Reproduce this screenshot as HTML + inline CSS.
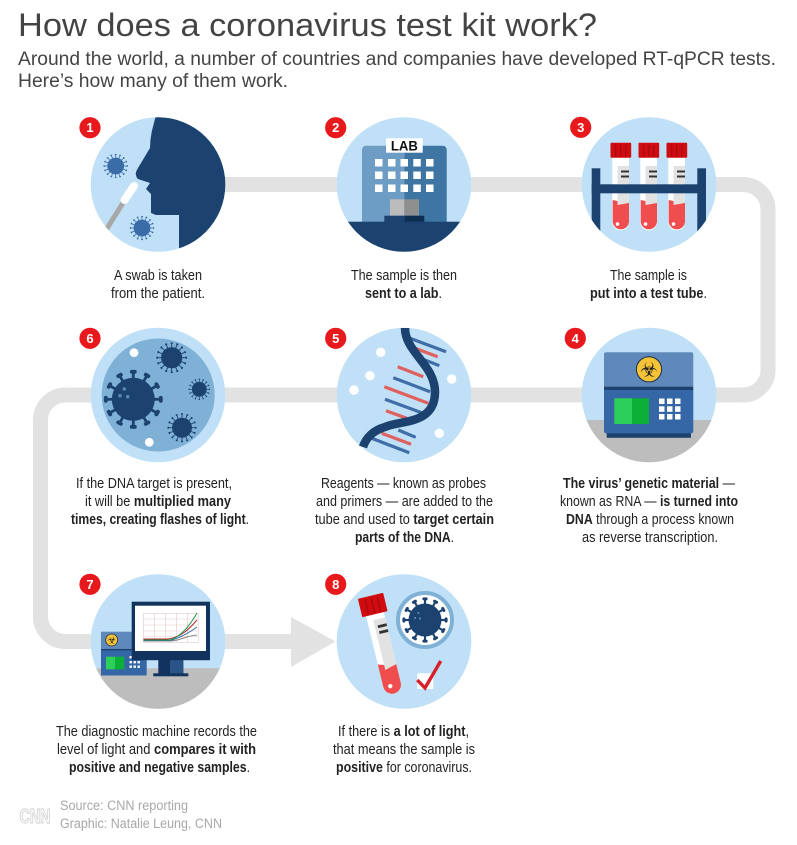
<!DOCTYPE html>
<html><head><meta charset="utf-8"><style>
html,body{margin:0;padding:0;background:#fff}
svg{display:block;filter:blur(.3px)}
.h{font-family:"Liberation Sans",sans-serif;fill:#444}
.b{font-family:"Liberation Sans Narrow","Liberation Sans",sans-serif;font-size:14.5px;fill:#222;text-anchor:middle}
.b tspan{font-weight:700}
.n{font-family:"Liberation Sans",sans-serif;font-size:13px;font-weight:700;fill:#fff;text-anchor:middle}
.f{font-family:"Liberation Sans",sans-serif;font-size:13.5px;fill:#a8a8a8}
</style></head><body>
<svg width="797" height="845" viewBox="0 0 797 845" xmlns="http://www.w3.org/2000/svg">
<defs>
<g id="s"><rect x="-.65" y="-13" width="1.3" height="4"/><rect x="-1.6" y="-13.7" width="3.2" height="1.8" rx=".9"/></g>
<g id="v12"><circle r="10"/>
<use href="#s"/><use href="#s" transform="rotate(30)"/><use href="#s" transform="rotate(60)"/><use href="#s" transform="rotate(90)"/><use href="#s" transform="rotate(120)"/><use href="#s" transform="rotate(150)"/><use href="#s" transform="rotate(180)"/><use href="#s" transform="rotate(210)"/><use href="#s" transform="rotate(240)"/><use href="#s" transform="rotate(270)"/><use href="#s" transform="rotate(300)"/><use href="#s" transform="rotate(330)"/></g>
<g id="s2"><rect x="-.45" y="-14" width=".9" height="5"/><rect x="-1.1" y="-14.5" width="2.2" height="1.5" rx=".7"/></g>
<g id="v16"><circle r="10"/>
<use href="#s2"/><use href="#s2" transform="rotate(22.5)"/><use href="#s2" transform="rotate(45)"/><use href="#s2" transform="rotate(67.5)"/><use href="#s2" transform="rotate(90)"/><use href="#s2" transform="rotate(112.5)"/><use href="#s2" transform="rotate(135)"/><use href="#s2" transform="rotate(157.5)"/><use href="#s2" transform="rotate(180)"/><use href="#s2" transform="rotate(202.5)"/><use href="#s2" transform="rotate(225)"/><use href="#s2" transform="rotate(247.5)"/><use href="#s2" transform="rotate(270)"/><use href="#s2" transform="rotate(292.5)"/><use href="#s2" transform="rotate(315)"/><use href="#s2" transform="rotate(337.5)"/></g>
<clipPath id="c1"><circle cx="158" cy="184.5" r="67.3"/></clipPath>
<clipPath id="c2"><circle cx="404" cy="184.5" r="67.3"/></clipPath>
<clipPath id="c3"><circle cx="649" cy="184.5" r="67.3"/></clipPath>
<clipPath id="c4"><circle cx="649" cy="395" r="67.3"/></clipPath>
<clipPath id="c7"><circle cx="158" cy="641.5" r="67.3"/></clipPath>
</defs>
<rect width="797" height="845" fill="#fff"/>

<text class="h" x="18" y="36" font-size="32" textLength="579" lengthAdjust="spacingAndGlyphs">How does a coronavirus test kit work?</text>
<text class="h" x="18" y="65" font-size="19" textLength="758" lengthAdjust="spacingAndGlyphs">Around the world, a number of countries and companies have developed RT-qPCR tests.</text>
<text class="h" x="18" y="87" font-size="19" textLength="270" lengthAdjust="spacingAndGlyphs">Here’s how many of them work.</text>

<path d="M158,184.5 H743 A25,25 0 0 1 768,209.5 V370 A25,25 0 0 1 743,395 H65.5 A25,25 0 0 0 40.5,420 V616.5 A25,25 0 0 0 65.5,641.5 H300" fill="none" stroke="#e2e2e2" stroke-width="15"/>
<path d="M291,617 L335.5,641.5 L291,667 Z" fill="#e2e2e2"/>

<!-- 1 -->
<circle cx="158" cy="184.5" r="67.3" fill="#bfe0f6"/>
<g clip-path="url(#c1)">
<path d="M156,115 L151.7,131.7 Q150,140 150,148 L138,168 Q135,173 136,175 Q136.5,178 138,179 L150,183 L146,189 L151,194 L151,213 L156,215 L179,215 L179,255 L230,255 L230,110 Z" fill="#1c426f"/>
<line x1="106.7" y1="229" x2="123.5" y2="202" stroke="#a8a8a8" stroke-width="5"/>
<line x1="124.5" y1="200" x2="134" y2="186" stroke="#fff" stroke-width="8" stroke-linecap="round"/>
</g>
<use href="#v16" transform="translate(115.7,166) scale(.84)" fill="#3a6ca8"/>
<use href="#v16" transform="translate(142,228) scale(.84)" fill="#3a6ca8"/>

<!-- 2 -->
<circle cx="404" cy="184.5" r="67.3" fill="#bfe0f6"/>
<g clip-path="url(#c2)">
<path d="M404.3,145.7 H366 a4,4 0 0 0 -4,4 V222 H404.3 Z" fill="#6d9dc5"/>
<path d="M404.3,145.7 H442.7 a4,4 0 0 1 4,4 V222 H404.3 Z" fill="#3e75a3"/>
<g fill="#fff">
<rect x="375" y="159" width="7.5" height="7.5"/><rect x="388" y="159" width="7.5" height="7.5"/><rect x="400.5" y="159" width="7.5" height="7.5"/><rect x="413.3" y="159" width="7.5" height="7.5"/><rect x="426" y="159" width="7.5" height="7.5"/>
<rect x="375" y="171.5" width="7.5" height="7.5"/><rect x="388" y="171.5" width="7.5" height="7.5"/><rect x="400.5" y="171.5" width="7.5" height="7.5"/><rect x="413.3" y="171.5" width="7.5" height="7.5"/><rect x="426" y="171.5" width="7.5" height="7.5"/>
<rect x="375" y="184.5" width="7.5" height="7.5"/><rect x="388" y="184.5" width="7.5" height="7.5"/><rect x="400.5" y="184.5" width="7.5" height="7.5"/><rect x="413.3" y="184.5" width="7.5" height="7.5"/><rect x="426" y="184.5" width="7.5" height="7.5"/>
</g>
<rect x="390" y="199.3" width="14.3" height="16.4" fill="#bcbcbc"/><rect x="404.3" y="199.3" width="14.7" height="16.4" fill="#8f8f8f"/>
<rect x="384.3" y="215.7" width="20" height="6.3" fill="#1c426f"/><rect x="404.3" y="215.7" width="20" height="6.3" fill="#0f2f52"/>
<rect x="330" y="221.7" width="150" height="40" fill="#1c426f"/>
</g>
<rect x="386" y="138.3" width="36.7" height="14.4" fill="#fff"/>
<text x="404.4" y="150.3" font-family="Liberation Sans,sans-serif" font-weight="700" font-size="14" fill="#111" text-anchor="middle" textLength="27" lengthAdjust="spacingAndGlyphs">LAB</text>

<!-- 3 -->
<circle cx="649" cy="184.5" r="67.3" fill="#bfe0f6"/>
<g clip-path="url(#c3)">
<g id="t1">
<path d="M612.3,157 H629 V222 a8.3,8.3 0 0 1 -16.7,0 Z" fill="#fff"/>
<rect x="617.5" y="166" width="11.5" height="18" fill="#e2e2e2"/>
<rect x="617.5" y="193" width="11.5" height="12" fill="#e2e2e2"/>
<rect x="621" y="170.5" width="8" height="2" fill="#333"/><rect x="621" y="175.5" width="8" height="2" fill="#333"/>
<path d="M612.7,200 L617.5,201 V205 L629,203 V222 a8.2,8.2 0 0 1 -16.3,0 Z" fill="#f04e4e"/>
<circle cx="617.5" cy="224" r="1.8" fill="#fff"/>
<rect x="610.5" y="142.7" width="20.7" height="15" rx="1" fill="#d00c10"/>
<rect x="615" y="145" width="1.3" height="12" fill="#a80a10"/><rect x="620" y="145" width="1.3" height="12" fill="#a80a10"/><rect x="625" y="145" width="1.3" height="12" fill="#a80a10"/>
</g>
<use href="#t1" x="28"/><use href="#t1" x="56"/>
<rect x="591.7" y="168.3" width="8.6" height="70" fill="#1c426f"/>
<rect x="697.3" y="168.3" width="8.7" height="70" fill="#1c426f"/>
<rect x="591.7" y="184.3" width="114" height="9" fill="#1c426f"/>
</g>

<!-- 4 -->
<circle cx="649" cy="395" r="67.3" fill="#bfe0f6"/>
<g clip-path="url(#c4)">
<rect x="570" y="420" width="160" height="50" fill="#bdbdbd"/>
<path d="M606,352.3 H691.3 a2,2 0 0 1 2,2 V387 H604 V354.3 a2,2 0 0 1 2,-2 Z" fill="#6089bb"/>
<rect x="604" y="386.7" width="89.3" height="3.5" fill="#1c426f"/>
<path d="M604,390 H693.3 V431 a2.5,2.5 0 0 1 -2.5,2.5 H606.5 a2.5,2.5 0 0 1 -2.5,-2.5 Z" fill="#3566a6"/>
<rect x="606.7" y="433.3" width="84.3" height="4.5" fill="#1c426f"/>
<rect x="614.3" y="398.3" width="17.7" height="25.7" fill="#2bcf5a"/><rect x="632" y="398.3" width="17" height="25.7" fill="#0bb038"/>
<g fill="#fff">
<rect x="659" y="398.5" width="5.5" height="5.5"/><rect x="667" y="398.5" width="5.5" height="5.5"/><rect x="675" y="398.5" width="5.5" height="5.5"/>
<rect x="659" y="406.3" width="5.5" height="5.5"/><rect x="667" y="406.3" width="5.5" height="5.5"/><rect x="675" y="406.3" width="5.5" height="5.5"/>
<rect x="659" y="414" width="5.5" height="5.5"/><rect x="667" y="414" width="5.5" height="5.5"/><rect x="675" y="414" width="5.5" height="5.5"/>
</g>
<circle cx="649" cy="369.3" r="12.6" fill="#f5c338" stroke="#1c2f48" stroke-width="1"/>
<text x="649" y="376.5" font-family="DejaVu Sans,sans-serif" font-size="20" fill="#222" text-anchor="middle">☣</text>
</g>

<!-- 5 -->
<circle cx="404" cy="395" r="67.3" fill="#bfe0f6"/>
<g fill="#fff"><circle cx="380.7" cy="352.3" r="4.7"/><circle cx="370" cy="375.7" r="4.7"/><circle cx="354" cy="390" r="4.7"/><circle cx="451.7" cy="379" r="4.7"/><circle cx="439.3" cy="433.3" r="4.7"/></g>
<g stroke-width="3.2" fill="none">
<g stroke="#3f6da8"><line x1="410" y1="338.3" x2="446" y2="351.7"/><line x1="423.3" y1="359.3" x2="439.3" y2="365.7"/><line x1="393.3" y1="377.7" x2="430" y2="391.7"/><line x1="385" y1="399.3" x2="421.7" y2="412.7"/><line x1="398.3" y1="430" x2="415.7" y2="437.3"/><line x1="371.7" y1="438.3" x2="409.3" y2="452.7"/></g>
<g stroke="#e0605e"><line x1="415" y1="348.3" x2="437.7" y2="356.7"/><line x1="397.7" y1="366.7" x2="423.3" y2="376.7"/><line x1="384.3" y1="386.7" x2="428.3" y2="403.3"/><line x1="386" y1="410.7" x2="406.7" y2="418.3"/><line x1="381.7" y1="433.3" x2="411" y2="444.3"/></g>
</g>
<path d="M405,328 C405,352 435,365 435,392 C435,425 400,420 385,427 C372,431 366,438 363,447" fill="none" stroke="#1c426f" stroke-width="8.5"/>

<!-- 6 -->
<circle cx="158" cy="395" r="67.3" fill="#bfe0f6"/>
<circle cx="158.2" cy="395" r="56.5" fill="#7fb0d5"/>
<g fill="#1c426f">
<use href="#v12" transform="translate(133.3,399.3) scale(2.15)"/>
<use href="#v16" transform="translate(171.7,357.7) scale(1.06)"/>
<use href="#v16" transform="translate(199.3,389.3) scale(.74)"/>
<use href="#v16" transform="translate(182,427.7) scale(1)"/>
</g>
<g fill="#5a86b2"><circle cx="124.3" cy="389" r="1.8"/><circle cx="120" cy="395.7" r="1.8"/><circle cx="127.7" cy="396.7" r="1.8"/></g>
<circle cx="134" cy="352.7" r="4.4" fill="#fff"/><circle cx="149.3" cy="442.3" r="4.4" fill="#fff"/>

<!-- 7 -->
<circle cx="158" cy="641.5" r="67.3" fill="#bfe0f6"/>
<g clip-path="url(#c7)">
<rect x="85" y="668.3" width="150" height="45" fill="#bdbdbd"/>
<rect x="101" y="631.7" width="45.7" height="18.3" fill="#6089bb"/>
<rect x="101" y="650" width="45.7" height="25.5" fill="#3566a6"/>
<rect x="101" y="649" width="45.7" height="1.4" fill="#1c426f"/>
<rect x="106" y="656.7" width="9" height="12.6" fill="#2bcf5a"/><rect x="115" y="656.7" width="9.3" height="12.6" fill="#0bb038"/>
<g fill="#fff"><rect x="129.5" y="656" width="2.4" height="2.4"/><rect x="129.5" y="661" width="2.4" height="2.4"/><rect x="133.5" y="661" width="2.4" height="2.4"/><rect x="137.5" y="661" width="2.4" height="2.4"/><rect x="129.5" y="665.5" width="2.4" height="2.4"/><rect x="133.5" y="665.5" width="2.4" height="2.4"/><rect x="137.5" y="665.5" width="2.4" height="2.4"/></g>
<circle cx="111.7" cy="640" r="6" fill="#f5c338" stroke="#1c2f48" stroke-width=".8"/>
<text x="111.7" y="643.6" font-family="DejaVu Sans,sans-serif" font-size="10" fill="#222" text-anchor="middle">☣</text>
<rect x="158.3" y="659" width="25" height="15" fill="#12335e"/><rect x="170" y="659" width="13.3" height="15" fill="#2a5388"/>
<rect x="153.3" y="673.3" width="35" height="3" fill="#12335e"/>
<rect x="131.7" y="601.7" width="78.3" height="58.5" fill="#12335e"/>
<rect x="135" y="605.7" width="71" height="45.3" fill="#fff"/>
<g stroke="#e3c9c9" stroke-width=".6" fill="none">
<path d="M143.3,613.3 H198.3 M143.3,619 H198.3 M143.3,625 H198.3 M143.3,631 H198.3 M143.3,636.5 H198.3 M143.3,642.3 H198.3"/>
<path d="M143.3,613.3 V642.3 M154.3,613.3 V642.3 M165.5,613.3 V642.3 M176.5,613.3 V642.3 M187.5,613.3 V642.3 M198.3,613.3 V642.3"/>
</g>
<g fill="none" stroke-width="1">
<path d="M143.5,641 H170 C180,641 185,636 197,635" stroke="#8a8a8a"/>
<path d="M143.5,640.5 H170 C180,638 190,632 197,627" stroke="#3a6ca8"/>
<path d="M143.5,639 H168 C182,637 190,628 197,620" stroke="#b22a2a"/>
<path d="M143.5,640 H170 C182,636 190,625 197,613" stroke="#1e9a4a"/>
</g>
</g>

<!-- 8 -->
<circle cx="404" cy="641.5" r="67.3" fill="#bfe0f6"/>
<g transform="translate(372.7,605) rotate(-13.6)">
<path d="M-9,9 H9 V82 a9,9 0 0 1 -18,0 Z" fill="#fff"/>
<rect x="-3" y="15" width="12" height="50" fill="#e2e2e2"/>
<rect x="0" y="21" width="9" height="2.8" fill="#333"/><rect x="0" y="27" width="9" height="2.8" fill="#333"/>
<path d="M-9,59 L-3,61 V66 L9,63 V82 a9,9 0 0 1 -18,0 Z" fill="#f04e4e"/>
<circle cx="-2" cy="83" r="2.2" fill="#fff"/>
<rect x="-13" y="-9.5" width="26" height="19" rx="1" fill="#d00c10"/>
<rect x="-7" y="-7" width="1.5" height="15" fill="#a80a10"/><rect x="-.7" y="-7" width="1.5" height="15" fill="#a80a10"/><rect x="5.5" y="-7" width="1.5" height="15" fill="#a80a10"/>
</g>
<circle cx="425" cy="620" r="27" fill="#fff" stroke="#7fb0d5" stroke-width="4"/>
<use href="#v12" transform="translate(425,620) scale(1.65)" fill="#1c426f"/>
<g fill="#5a86b2"><circle cx="418.5" cy="613" r="1.1"/><circle cx="415" cy="618" r="1.1"/><circle cx="420" cy="618.5" r="1.1"/></g>
<rect x="417.3" y="673.3" width="16" height="15.7" fill="#fff"/>
<path d="M417.3,680 L425,688 L440.7,661" fill="none" stroke="#d8202a" stroke-width="3.4"/>

<!-- badges -->
<g fill="#e8191c">
<circle cx="90" cy="127.7" r="10.6"/><circle cx="335.7" cy="127.7" r="10.6"/><circle cx="580.7" cy="127.3" r="10.6"/><circle cx="575.3" cy="338.3" r="10.6"/><circle cx="335.7" cy="338.3" r="10.6"/><circle cx="90" cy="338.3" r="10.6"/><circle cx="90" cy="584.3" r="10.6"/><circle cx="335.7" cy="584.3" r="10.6"/>
</g>
<text class="n" x="90" y="132.2">1</text><text class="n" x="335.7" y="132.2">2</text><text class="n" x="580.7" y="131.8">3</text><text class="n" x="575.3" y="342.8">4</text><text class="n" x="335.7" y="342.8">5</text><text class="n" x="90" y="342.8">6</text><text class="n" x="90" y="588.8">7</text><text class="n" x="335.7" y="588.8">8</text>

<!-- captions -->
<g>
<text class="b" x="158" y="280" textLength="88" lengthAdjust="spacingAndGlyphs">A swab is taken</text>
<text class="b" x="158" y="298" textLength="94" lengthAdjust="spacingAndGlyphs">from the patient.</text>
<text class="b" x="404" y="280" textLength="106" lengthAdjust="spacingAndGlyphs">The sample is then</text>
<text class="b" x="403.5" y="298" textLength="77" lengthAdjust="spacingAndGlyphs"><tspan>sent to a lab</tspan>.</text>
<text class="b" x="648.5" y="280" textLength="77" lengthAdjust="spacingAndGlyphs">The sample is</text>
<text class="b" x="648.5" y="298" textLength="117" lengthAdjust="spacingAndGlyphs"><tspan>put into a test tube</tspan>.</text>

<text class="b" x="154" y="488" textLength="156" lengthAdjust="spacingAndGlyphs">If the DNA target is present,</text>
<text class="b" x="158" y="506" textLength="146" lengthAdjust="spacingAndGlyphs">it will be <tspan>multiplied many</tspan></text>
<text class="b" x="160" y="524" textLength="178" lengthAdjust="spacingAndGlyphs"><tspan>times, creating flashes of light</tspan>.</text>

<text class="b" x="403.5" y="488" textLength="165" lengthAdjust="spacingAndGlyphs">Reagents — known as probes</text>
<text class="b" x="404.5" y="506" textLength="177" lengthAdjust="spacingAndGlyphs">and primers — are added to the</text>
<text class="b" x="404.5" y="524" textLength="179" lengthAdjust="spacingAndGlyphs">tube and used to <tspan>target certain</tspan></text>
<text class="b" x="404.5" y="542" textLength="99" lengthAdjust="spacingAndGlyphs"><tspan>parts of the DNA</tspan>.</text>

<text class="b" x="649" y="488" textLength="172" lengthAdjust="spacingAndGlyphs"><tspan>The virus’ genetic material</tspan> —</text>
<text class="b" x="649" y="506" textLength="178" lengthAdjust="spacingAndGlyphs">known as RNA — <tspan>is turned into</tspan></text>
<text class="b" x="650" y="524" textLength="168" lengthAdjust="spacingAndGlyphs"><tspan>DNA</tspan> through a process known</text>
<text class="b" x="650" y="542" textLength="136" lengthAdjust="spacingAndGlyphs">as reverse transcription.</text>

<text class="b" x="156.5" y="736" textLength="201" lengthAdjust="spacingAndGlyphs">The diagnostic machine records the</text>
<text class="b" x="156.5" y="754" textLength="199" lengthAdjust="spacingAndGlyphs">level of light and <tspan>compares it with</tspan></text>
<text class="b" x="159.5" y="772" textLength="181" lengthAdjust="spacingAndGlyphs"><tspan>positive and negative samples</tspan>.</text>

<text class="b" x="403.5" y="736" textLength="131" lengthAdjust="spacingAndGlyphs">If there is <tspan>a lot of light</tspan>,</text>
<text class="b" x="404" y="754" textLength="142" lengthAdjust="spacingAndGlyphs">that means the sample is</text>
<text class="b" x="404" y="772" textLength="136" lengthAdjust="spacingAndGlyphs"><tspan>positive</tspan> for coronavirus.</text>
</g>

<!-- footer -->
<text x="19.5" y="823" font-family="Liberation Sans,sans-serif" font-weight="700" font-size="20" fill="#fff" stroke="#d6d6d6" stroke-width="1.2" textLength="31" lengthAdjust="spacingAndGlyphs">CNN</text>
<text class="f" x="60" y="810" textLength="128" lengthAdjust="spacingAndGlyphs">Source: CNN reporting</text>
<text class="f" x="60" y="828" textLength="162" lengthAdjust="spacingAndGlyphs">Graphic: Natalie Leung, CNN</text>
</svg>
</body></html>
